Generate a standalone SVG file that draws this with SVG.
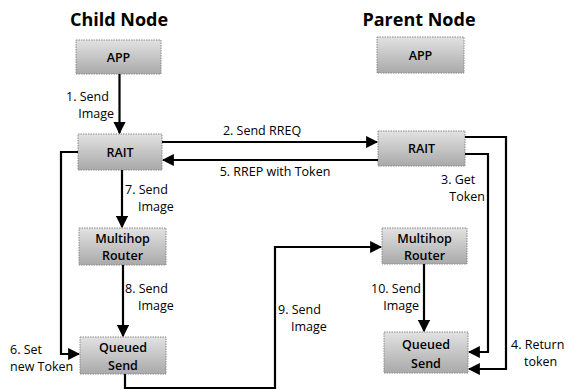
<svg xmlns="http://www.w3.org/2000/svg" width="577" height="390" viewBox="0 0 577 390">
<defs>
<linearGradient id="g" x1="0" y1="0" x2="0" y2="1">
<stop offset="0" stop-color="#e2e2e2"/>
<stop offset="1" stop-color="#a9a9a9"/>
</linearGradient>
<marker id="ah" viewBox="0 0 10 10" refX="9" refY="5" markerWidth="5.5" markerHeight="5.5" orient="auto" markerUnits="strokeWidth">
<path d="M0,0 L10,5 L0,10 z" fill="#000"/>
</marker>
</defs>
<style>
.box{fill:url(#g);stroke:#8a8a8a;stroke-width:1;stroke-dasharray:1.5 1}
.bt{font-family:"Open Sans","DejaVu Sans",sans-serif;font-size:12.5px;font-weight:600;fill:#000;text-anchor:middle}
.title{font-family:"Open Sans","DejaVu Sans",sans-serif;font-size:18px;font-weight:700;fill:#000;text-anchor:middle}
.lb{font-family:"Open Sans","DejaVu Sans",sans-serif;font-size:12.5px;fill:#000}
.c{fill:none;stroke:#000;stroke-width:2.2}
</style>
<rect width="577" height="390" fill="#fff"/>
<text class="title" x="119" y="26">Child Node</text>
<text class="title" x="419" y="26">Parent Node</text>

<g id="child-app"><rect class="box" x="76" y="40" width="85" height="34"/><text class="bt" x="118.5" y="62">APP</text></g>
<g id="child-rait"><rect class="box" x="78" y="134" width="84" height="36"/><text class="bt" x="120" y="157">RAIT</text></g>
<g id="child-router"><rect class="box" x="79" y="228" width="87" height="37"/><text class="bt" x="122.5" y="243">Multihop</text><text class="bt" x="122.5" y="260">Router</text></g>
<g id="child-queue"><rect class="box" x="80" y="337" width="86" height="37"/><text class="bt" x="123" y="352">Queued</text><text class="bt" x="123" y="370">Send</text></g>

<g id="parent-app"><rect class="box" x="377" y="37" width="87" height="36"/><text class="bt" x="420.5" y="60">APP</text></g>
<g id="parent-rait"><rect class="box" x="378" y="131" width="87" height="35"/><text class="bt" x="421.5" y="153">RAIT</text></g>
<g id="parent-router"><rect class="box" x="382" y="228" width="85" height="36"/><text class="bt" x="424.5" y="243">Multihop</text><text class="bt" x="424.5" y="260">Router</text></g>
<g id="parent-queue"><rect class="box" x="384" y="332" width="84" height="41"/><text class="bt" x="426" y="349">Queued</text><text class="bt" x="426" y="368">Send</text></g>

<g id="connectors">
<path class="c" d="M119.5,74 V133" marker-end="url(#ah)"/>
<path class="c" d="M162,142 H377" marker-end="url(#ah)"/>
<path class="c" d="M378,160 H163" marker-end="url(#ah)"/>
<path class="c" d="M465,154 H488 V352 H469" marker-end="url(#ah)"/>
<path class="c" d="M465,137 H506 V369 H469" marker-end="url(#ah)"/>
<path class="c" d="M78,152 H61 V354 H79" marker-end="url(#ah)"/>
<path class="c" d="M122,170 V227" marker-end="url(#ah)"/>
<path class="c" d="M123,265 V336" marker-end="url(#ah)"/>
<path class="c" d="M125,374 V388 H275 V247 H381" marker-end="url(#ah)"/>
<path class="c" d="M424,264 V331" marker-end="url(#ah)"/>
</g>

<g id="labels">
<text class="lb" x="66" y="101">1. Send</text>
<text class="lb" x="114" y="118" text-anchor="end">Image</text>
<text class="lb" x="262" y="135" text-anchor="middle">2. Send RREQ</text>
<text class="lb" x="275" y="176" text-anchor="middle">5. RREP with Token</text>
<text class="lb" x="441" y="184">3. Get</text>
<text class="lb" x="485" y="201" text-anchor="end">Token</text>
<text class="lb" x="125" y="194">7. Send</text>
<text class="lb" x="138" y="211">Image</text>
<text class="lb" x="125" y="293">8. Send</text>
<text class="lb" x="138" y="310">Image</text>
<text class="lb" x="278" y="314">9. Send</text>
<text class="lb" x="291" y="331">Image</text>
<text class="lb" x="421" y="293" text-anchor="end">10. Send</text>
<text class="lb" x="419" y="310" text-anchor="end">Image</text>
<text class="lb" x="511" y="349">4. Return</text>
<text class="lb" x="524" y="366">token</text>
<text class="lb" x="10" y="354">6. Set</text>
<text class="lb" x="10" y="371">new Token</text>
</g>
</svg>
